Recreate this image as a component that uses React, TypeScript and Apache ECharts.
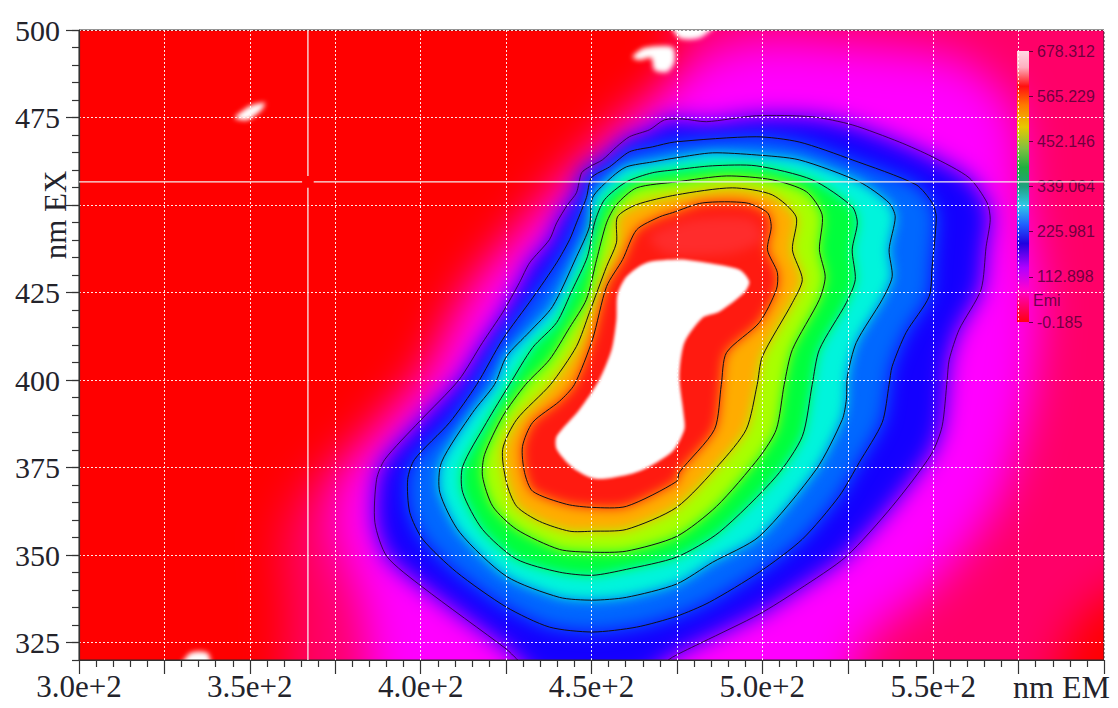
import React, { useEffect, useRef } from "react";
import * as echarts from "echarts";

type Pt = [number, number];

// Axis values
const xTicks = [300, 350, 400, 450, 500, 550];
const yTicks = [325, 350, 375, 400, 425, 450, 475, 500];
const yLabels = [325, 350, 375, 400, 425, 475, 500];
const barTicks = [-0.185, 112.898, 225.981, 339.064, 452.146, 565.229, 678.312];
const barMin = -0.185;
const barMax = 678.312;

// Regions of equal intensity as [nm EM, nm EX]
const haloRose: Pt[] = [[366,290],[361,337.4],[360,357.3],[369,372],[384,383],[397,396],[410,420],[421,434],[436,448],[445,461],[458,470],[467,479],[474,489],[478,530],[640,530],[640,365.9],[592.7,331.7],[572.2,290]];
const haloMagenta: Pt[] = [[393.9,290],[382.2,337.4],[374.9,357.3],[377.8,374.5],[389.5,388.7],[402.6,403],[414.3,425.8],[428.9,442.9],[442.1,457.2],[449.4,464.3],[459.7,474.3],[467,480],[475.7,487.2],[484.5,492.9],[499.1,497.1],[525.4,495.7],[557.6,491.4],[573.7,477.2],[576.6,451.5],[581,423],[578.1,394.4],[569.3,365.9],[551.8,343.1],[528.4,323.1],[519.6,290]];
const contour1: Pt[] = [[434.8,314.5],[428.1,320.3],[425.1,323.1],[400.6,340.8],[390.1,349.6],[386.6,359.3],[387.1,371.6],[389.5,377.3],[399.7,388.2],[411.1,399.9],[418.1,410.7],[424,419.3],[428.9,427.8],[431.9,433.5],[437.7,440.1],[439.8,444.9],[443,450.1],[445.6,453.5],[447.1,459.2],[449.4,460.9],[453.2,462.9],[457.3,466.6],[461.1,469.5],[467,471.5],[471.3,474.3],[476.6,474.6],[483.6,473.8],[498.2,475.5],[514.6,475.2],[526.3,472.9],[540.1,468],[549.7,463.8],[560.5,457.8],[565.8,450.6],[566.7,445.8],[565.5,438.1],[564,425.8],[557.6,414.4],[554.7,405.8],[554.1,400.1],[552.6,386.7],[549.4,378.7],[538,363.9],[524.6,349.6],[510.8,340.2],[499.1,333.1],[482.5,325.1],[473.7,320.8],[464,314.5]];
const contour2: Pt[] = [[474.9,332.5],[463.2,329.4],[450.3,328],[437.7,329.4],[425.1,335.1],[410.5,345.1],[400.6,354.5],[396.8,362.2],[396.2,371.6],[398.2,377.3],[408.5,387.9],[416.4,398.7],[424,411.6],[432.8,423.5],[439.8,433.5],[443.6,440.1],[445.6,444.9],[448.5,452.1],[450,457.8],[455.3,460.9],[461.1,465.2],[467.8,466.6],[474.3,468],[498.2,469.5],[510.8,468],[526.3,462.9],[545,455.8],[549.7,450.6],[550.9,446.6],[549.7,432.4],[548.8,423.8],[542.1,413.6],[538,403.9],[537.1,398.7],[535.1,387.9],[528.4,376.5],[522.5,366.8],[511.7,354.5],[499.1,345.1],[484.5,336.5]];
const contour3: Pt[] = [[474.9,341.7],[460.2,337.9],[450.3,337.1],[440.6,337.9],[425.1,343.9],[411.4,356.5],[405.6,367.9],[406.1,376.5],[415.2,390.7],[421.6,398.7],[425.1,406.7],[431.9,413.8],[438.6,421],[445.6,435.2],[449.4,443.8],[450.3,452.1],[456.1,458.1],[460.2,460.9],[467.8,462.3],[474.9,463.5],[485.4,464.9],[498.2,464.3],[510.8,462.9],[528.4,456.6],[537.1,450.6],[538.9,446.6],[537.1,437.2],[538,429.5],[535.1,423],[527.5,410.7],[524.9,401],[524.6,394.4],[523.4,388.7],[515.8,374.5],[499.1,355.3],[485.4,347.9]];
const contour4: Pt[] = [[474.9,349.4],[460.2,345.9],[450.3,344.2],[440.6,345.1],[428.1,348.8],[418.1,357.3],[412.3,367.9],[412.3,375.3],[419.3,387.9],[426,398.7],[432.8,409.3],[439.8,416.4],[444.4,425.8],[448.8,435.2],[450.9,444.9],[453.8,451.5],[460.2,456.6],[467.8,459.2],[474.9,460.1],[485.4,461.2],[498.2,461.2],[514.6,457.2],[526.3,449.5],[527.8,444.9],[526.3,437.2],[527.2,428.7],[524.6,422.1],[516.7,408.7],[514.6,398.7],[511.7,383.9],[504.1,372.5],[487.4,356.5]];
const contour5: Pt[] = [[474.9,355.3],[460.2,351.1],[450.3,350.8],[440.6,351.6],[428.1,357.3],[421.1,363.9],[418.1,372.5],[418.7,378.7],[424,389.6],[430.7,398.7],[437.7,405.8],[443.6,415],[448.5,423],[451.5,434.4],[454.4,444.9],[457.3,450.1],[463.2,454.9],[474.9,456.6],[489.5,458.3],[502.9,457.2],[512.9,453.8],[517.5,447.2],[516.7,437.2],[518.4,429.5],[516.7,423],[508.8,408.7],[506.4,398.7],[504.1,385.9],[499.1,377.9],[486.6,363.9]];
const contour6: Pt[] = [[474.9,363.6],[460.2,357.3],[450.3,356.8],[443.6,356.8],[434.8,359.6],[428.1,363.9],[425.1,370.8],[424,380.2],[428.1,388.7],[438,398.7],[445.6,409.6],[449.4,419.3],[454.4,432.4],[457.3,439.2],[457.6,446.6],[463.2,450.1],[474.9,452.9],[491.2,454.9],[502.9,452.9],[509.9,446.6],[508.8,437.2],[511.7,428.7],[508.8,422.1],[500,406.7],[498.5,398.7],[495.3,385.9],[487.4,375.9]];
const contour7: Pt[] = [[474.9,371],[460.2,363.9],[450.3,363.6],[442.7,364.5],[432.8,368.2],[430.4,373.6],[429.8,381],[432.8,387.9],[440.6,393.9],[445,398.7],[450.3,411.6],[454.4,426.7],[459.1,434.4],[463.2,442.9],[469.9,446.6],[473.7,447.8],[482.5,450.6],[495.3,450.6],[501.5,447.8],[502.6,443.8],[501.5,437.2],[504.4,430.7],[504.1,425.8],[499.1,416.4],[489.5,407.8],[488,398.7],[486,385.9],[475.7,373.6]];
const brightPatch: Pt[] = [[467,441],[480,446],[497,446],[500,440],[490,436],[472,436]];

// Saturated regions at the top of the scale
const saturatedCore: Pt[] = [[466.1,433.5],[475.7,434.4],[483.6,433.5],[493.3,431.5],[496.2,428.1],[494.7,425],[487.4,419.5],[482.5,417.8],[477.2,410.7],[475.7,401],[476.9,390.7],[477.2,385.9],[473.7,379.6],[464,373.9],[455.3,371.9],[450.3,371.9],[444.4,375],[439.8,380.2],[439.8,383.9],[446.5,391.6],[452.3,400.1],[455.9,408.7],[457.3,417.3],[457.6,424.4],[460.2,429.5]];
const spotA: Pt[] = [[345.6,474.9],[350,478.3],[354.4,479.2],[353.5,477.2],[349.4,474.3]];
const spotB: Pt[] = [[462,492.3],[465.5,494.9],[473.7,495.1],[474.3,490.9],[472.2,488],[468.4,488.6],[467.5,492],[464,491.4]];
const spotC: Pt[] = [[473.4,502],[486.6,502],[481.6,497.7],[475.7,497.7]];
const spotD: Pt[] = [[329.5,317],[332.5,322],[337.7,322],[338.3,317]];

const contours = [contour1, contour2, contour3, contour4, contour5, contour6, contour7];

// Painted back to front; each stack gets its own softness
const stacks = [
  { layers: [haloRose, haloMagenta], colors: ["#ff0068", "#ff00ff"], blur: 22, bg: "#ff0000" },
  { layers: [contour1], colors: ["#1400ff"], blur: 11, bg: "transparent" },
  { layers: [contour2], colors: ["#0068ff"], blur: 9, bg: "transparent" },
  {
    layers: [contour3, contour4, contour5, contour6, contour7, brightPatch],
    colors: ["#00f4dc", "#00ff3c", "#a8ff00", "#ffac00", "#ff1a10", "#ff2c2c"],
    blur: 6,
    bg: "transparent",
  },
  { layers: [saturatedCore], colors: ["#ffffff"], blur: 1.6, bg: "transparent" },
  { layers: [spotA, spotB, spotC, spotD], colors: ["#ffffff", "#ffffff", "#ffffff", "#ffffff"], blur: 2.6, bg: "transparent" },
];

// Crosshair, in axis units
const crossX = 367;
const crossY = 456.6;
const crossSegments: Pt[][] = [
  [[crossX, 500], [crossX, 458.3]],
  [[crossX, 454.9], [crossX, 320]],
  [[300, crossY], [365.3, crossY]],
  [[368.7, crossY], [600, crossY]],
];

const serif = "Liberation Serif";
const sans = "Liberation Sans";
const gridRect = { left: 79, top: 30, width: 1025, height: 630 };
const pad = 100;
const paddedGrid = { left: 79 + pad, top: 30 + pad, width: 1025, height: 630 };

function polygonSeries(layers: Pt[][], style: (i: number) => any, clip: boolean) {
  return {
    type: "custom",
    coordinateSystem: "cartesian2d",
    xAxisIndex: 0,
    yAxisIndex: 0,
    clip,
    silent: true,
    data: layers.map((_, i) => [i, i]),
    renderItem: (_p: any, api: any) => {
      const i = api.value(0);
      return {
        type: "polygon",
        shape: { points: layers[i].map((p) => api.coord(p)), smooth: 0.25 },
        style: style(i),
      };
    },
  };
}

const stackOptions = stacks.map((s) => ({
  animation: false,
  backgroundColor: s.bg,
  grid: paddedGrid,
  xAxis: { type: "value", min: 300, max: 600, show: false },
  yAxis: { type: "value", min: 320, max: 500, show: false },
  series: [polygonSeries(s.layers, (i) => ({ fill: s.colors[i] }), false)],
}));

const axisText = { color: "#23232b", fontFamily: serif };
const tickLine = { color: "#333333", width: 1.2 };
const dotted = { show: true, lineStyle: { color: "rgba(255,255,255,0.9)", type: [2, 2], width: 1 } };

const frontOption = {
  animation: false,
  grid: [
    { ...gridRect, show: true, borderColor: "#2a2a2a", borderWidth: 1, backgroundColor: "transparent" },
    { left: 1017, top: 51, width: 12, height: 271 },
  ],
  xAxis: [
    {
      type: "value", gridIndex: 0, min: 300, max: 600, interval: 25, z: 5,
      axisLine: { show: true, onZero: false, lineStyle: tickLine },
      axisTick: { show: true, length: 14, lineStyle: tickLine },
      minorTick: { show: true, splitNumber: 5, length: 7, lineStyle: tickLine },
      splitLine: dotted,
      axisLabel: {
        ...axisText, fontSize: 31, margin: 11, customValues: xTicks,
        formatter: (v: number) => v.toExponential(1),
      },
    },
    { type: "category", gridIndex: 1, show: false, data: ["Emi"] },
  ],
  yAxis: [
    {
      type: "value", gridIndex: 0, min: 320, max: 500, z: 5,
      axisLine: { show: true, onZero: false, lineStyle: tickLine },
      axisTick: { show: true, length: 13, customValues: yTicks, lineStyle: tickLine },
      splitLine: dotted,
      axisLabel: { ...axisText, fontSize: 30, margin: 19, customValues: yLabels },
    },
    {
      type: "value", gridIndex: 0, min: 320, max: 500, interval: 5, position: "left", z: 5,
      axisLine: { show: false },
      axisTick: { show: true, length: 7, lineStyle: tickLine },
      splitLine: { show: false },
      axisLabel: { show: false },
    },
    {
      type: "value", gridIndex: 1, min: barMin, max: barMax, position: "right", z: 5,
      axisLine: { show: false },
      axisTick: { show: true, length: 4, customValues: barTicks, lineStyle: { color: "rgba(60,0,40,0.8)" } },
      splitLine: { show: false },
      axisLabel: {
        customValues: barTicks, margin: 8, fontFamily: sans, fontSize: 16, color: "rgba(70,0,50,0.78)",
        formatter: (v: number) => v.toFixed(3),
      },
    },
  ],
  series: [
    polygonSeries(
      contours,
      (i) => ({ fill: "none", stroke: i === 0 ? "rgba(45,0,60,0.85)" : "#101018", lineWidth: 1 }),
      true
    ),
    ...crossSegments.map((seg) => ({
      type: "line",
      xAxisIndex: 0,
      yAxisIndex: 0,
      data: seg,
      symbol: "none",
      silent: true,
      z: 6,
      lineStyle: { color: "#f4ecec", width: 1.3 },
    })),
    {
      type: "bar",
      xAxisIndex: 1,
      yAxisIndex: 2,
      data: [barMax],
      barWidth: "100%",
      silent: true,
      itemStyle: {
        color: new echarts.graphic.LinearGradient(0, 0, 0, 1, [
          { offset: 0, color: "#ffd8e4" },
          { offset: 0.06, color: "#ffb0c0" },
          { offset: 0.13, color: "#ff1010" },
          { offset: 0.2, color: "#ff7a00" },
          { offset: 0.28, color: "#e8c800" },
          { offset: 0.36, color: "#80c040" },
          { offset: 0.43, color: "#20b040" },
          { offset: 0.5, color: "#20a080" },
          { offset: 0.57, color: "#30c8e8" },
          { offset: 0.64, color: "#2060ff" },
          { offset: 0.71, color: "#2000e0" },
          { offset: 0.8, color: "#b000ff" },
          { offset: 0.88, color: "#ff00d0" },
          { offset: 1, color: "#ff0010" },
        ]),
      },
    },
  ],
  graphic: [
    { type: "text", x: 1033, y: 300, style: { text: "Emi", font: `16px "${sans}"`, fill: "rgba(70,0,50,0.78)", textVerticalAlign: "middle" } },
    { type: "text", x: 1110, y: 687, style: { text: "nm EM", font: `32px "${serif}"`, fill: "#23232b", textAlign: "right", textVerticalAlign: "middle" } },
    { type: "text", x: 55, y: 215, rotation: Math.PI / 2, style: { text: "nm EX", font: `31px "${serif}"`, fill: "#23232b", textAlign: "center", textVerticalAlign: "middle" } },
  ],
};

const clipBox: React.CSSProperties = { position: "absolute", left: 79, top: 30, width: 1025, height: 630, overflow: "hidden" };

export default function App() {
  const stackRefs = useRef<(HTMLDivElement | null)[]>([]);
  const frontRef = useRef<HTMLDivElement>(null);

  useEffect(() => {
    const charts = stackOptions.map((option, i) => {
      const c = echarts.init(stackRefs.current[i] as HTMLDivElement, undefined, { renderer: "svg" });
      c.setOption(option as any);
      return c;
    });
    const front = echarts.init(frontRef.current as HTMLDivElement, undefined, { renderer: "svg" });
    front.setOption(frontOption as any);
    charts.push(front);
    return () => charts.forEach((c) => c.dispose());
  }, []);

  return (
    <div style={{ position: "absolute", left: 0, top: 0, width: 1118, height: 708, background: "#fff", overflow: "hidden" }}>
      {stacks.map((s, i) => (
        <div key={i} style={clipBox}>
          <div
            ref={(el) => { stackRefs.current[i] = el; }}
            style={{
              position: "absolute",
              left: -79 - pad,
              top: -30 - pad,
              width: 1118 + 2 * pad,
              height: 708 + 2 * pad,
              filter: `blur(${s.blur}px)`,
            }}
          />
        </div>
      ))}
      <div ref={frontRef} style={{ position: "absolute", left: 0, top: 0, width: 1118, height: 708 }} />
    </div>
  );
}
